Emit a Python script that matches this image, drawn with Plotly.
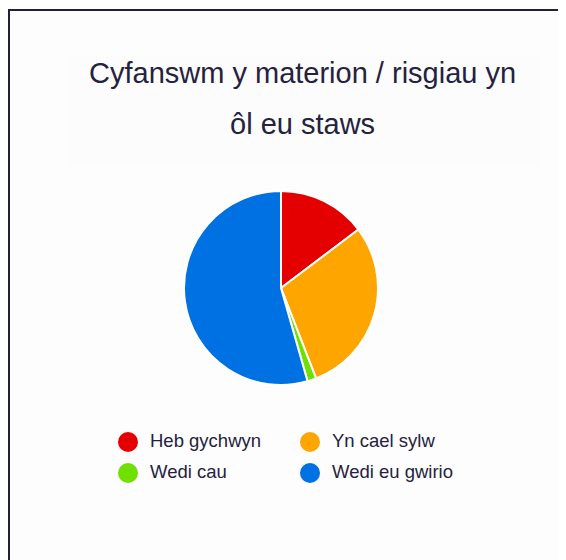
import plotly.graph_objects as go

# ---- data ----
labels = ["Heb gychwyn", "Yn cael sylw", "Wedi cau", "Wedi eu gwirio"]
values = [10, 20, 1, 37]
colors = ["#E40000", "#FFA500", "#70E000", "#0071E3"]
title_lines = ["Cyfanswm y materion / risgiau yn", "ôl eu staws"]

# page body has an 8px margin; work in screen coordinates and convert
OFF = 8
W, H = 558, 552
TEXT = "#25223D"
FONT = "Liberation Sans, Arial, Helvetica, sans-serif"


def px(x):
    return (x - OFF) / W


def py(y):
    return 1 - (y - OFF) / H


fig = go.Figure()

cx, cy, r = 281, 288, 97
fig.add_trace(go.Pie(
    labels=labels,
    values=values,
    marker=dict(colors=colors, line=dict(color="white", width=2)),
    sort=False,
    direction="clockwise",
    rotation=0,
    textinfo="none",
    hoverinfo="label+value+percent",
    showlegend=False,
    domain=dict(x=[px(cx - r), px(cx + r)], y=[py(cy + r), py(cy - r)]),
))

shapes = [
    # card background
    dict(type="rect", xref="paper", yref="paper", x0=px(9), x1=px(561), y0=0, y1=py(10),
         fillcolor="#FDFDFE", line=dict(width=0), layer="below"),
    # subtle title panel
    dict(type="rect", xref="paper", yref="paper", x0=px(68), x1=px(540), y0=py(165), y1=py(55),
         fillcolor="#FCFCFD", line=dict(width=0), layer="below"),
    # dark top border
    dict(type="line", xref="paper", yref="paper", x0=0, x1=1, y0=py(10), y1=py(10),
         line=dict(color="#22203A", width=2)),
    # dark left border
    dict(type="line", xref="paper", yref="paper", x0=px(9), x1=px(9), y0=0, y1=py(9),
         line=dict(color="#22203A", width=2)),
    # faint right edge
    dict(type="line", xref="paper", yref="paper", x0=px(560.5), x1=px(560.5), y0=0, y1=py(11),
         line=dict(color="#E6E6EA", width=2)),
]

annotations = []
for i, line in enumerate(title_lines):
    annotations.append(dict(
        text=line, xref="paper", yref="paper", x=px(302), y=py(73 + 51 * i),
        xanchor="center", yanchor="middle", showarrow=False,
        font=dict(family=FONT, size=29, color=TEXT),
    ))

# legend (2 columns) built from labels / colors
col_x = [128, 310]
row_y = [442, 473]
for i, (lab, col) in enumerate(zip(labels, colors)):
    mx = col_x[i % 2]
    my = row_y[i // 2]
    shapes.append(dict(type="circle", xref="paper", yref="paper",
                       x0=px(mx - 10), x1=px(mx + 10), y0=py(my + 10), y1=py(my - 10),
                       fillcolor=col, line=dict(width=0)))
    annotations.append(dict(
        text=lab, xref="paper", yref="paper", x=px(mx + 20), y=py(my - 2),
        xanchor="left", yanchor="middle", showarrow=False,
        font=dict(family=FONT, size=18.5, color=TEXT),
    ))

fig.update_layout(
    width=W, height=H,
    margin=dict(l=0, r=0, t=0, b=0),
    paper_bgcolor="white",
    plot_bgcolor="white",
    shapes=shapes,
    annotations=annotations,
    showlegend=False,
)

fig.write_html("out.html", config={"displayModeBar": False})
